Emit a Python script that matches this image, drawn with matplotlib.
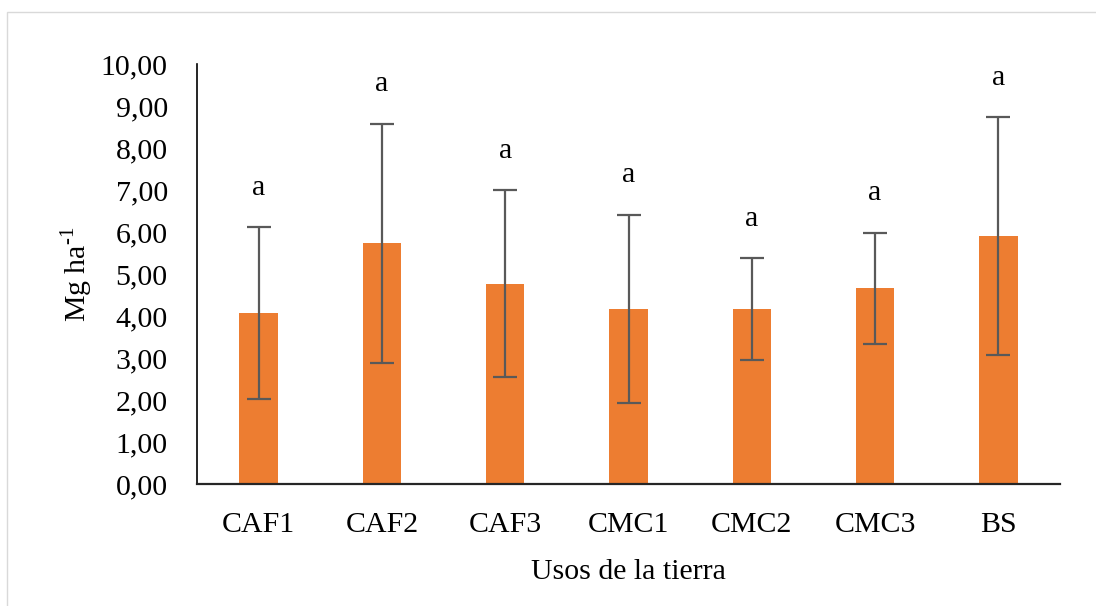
import matplotlib
matplotlib.use("Agg")
import matplotlib.pyplot as plt
from matplotlib.patches import Rectangle
from matplotlib.ticker import FuncFormatter, MultipleLocator

# Carbon stock per land use (mean and standard deviation)
categories = ["CAF1", "CAF2", "CAF3", "CMC1", "CMC2", "CMC3", "BS"]
means = [4.07, 5.73, 4.77, 4.17, 4.17, 4.66, 5.90]
std_dev = [2.05, 2.85, 2.23, 2.24, 1.21, 1.32, 2.84]
letters = ["a", "a", "a", "a", "a", "a", "a"]

plt.rcParams["font.family"] = ["Liberation Serif", "DejaVu Serif"]
plt.rcParams["mathtext.fontset"] = "custom"
plt.rcParams["mathtext.rm"] = "Liberation Serif"

fig = plt.figure(figsize=(10.96, 6.06), dpi=100)
ax = fig.add_axes([0.1797, 0.2013, 0.7875, 0.6931])

# light chart-area border
fig.patches.append(Rectangle((7 / 1096, -0.1), 1.2, 1.1 - 12 / 606,
                             transform=fig.transFigure, fill=False,
                             edgecolor="#d9d9d9", linewidth=1.0))

x = list(range(len(categories)))
ax.bar(x, means, width=0.31, color="#ED7D31", zorder=2)
ax.errorbar(x, means, yerr=std_dev, fmt="none", ecolor="#595959",
            elinewidth=1.6, capsize=8.5, capthick=1.6, zorder=3)

for xi, m, s, lab in zip(x, means, std_dev, letters):
    ax.annotate(lab, (xi, m + s), xytext=(0, 19), textcoords="offset points",
                ha="center", va="bottom", fontsize=21.5, color="black")

ax.set_xlim(-0.5, len(categories) - 0.5)
ax.set_ylim(0, 10)
ax.yaxis.set_major_locator(MultipleLocator(1))
ax.yaxis.set_major_formatter(FuncFormatter(lambda v, p: f"{v:.2f}".replace(".", ",")))
ax.set_xticks(x)
ax.set_xticklabels(categories)

ax.tick_params(axis="both", length=0, labelsize=21.5, colors="black")
ax.tick_params(axis="y", pad=21)
ax.tick_params(axis="x", pad=20)

for side in ["top", "right"]:
    ax.spines[side].set_visible(False)
ax.spines["left"].set_color("black")
ax.spines["bottom"].set_color("#262626")
ax.spines["left"].set_linewidth(1.2)
ax.spines["bottom"].set_linewidth(1.6)

ax.set_xlabel("Usos de la tierra", fontsize=21.5, labelpad=15)
ax.set_ylabel(r"Mg ha$^{\text{-1}}$", fontsize=21.5, labelpad=4)

fig.savefig("out.png", dpi=100)
